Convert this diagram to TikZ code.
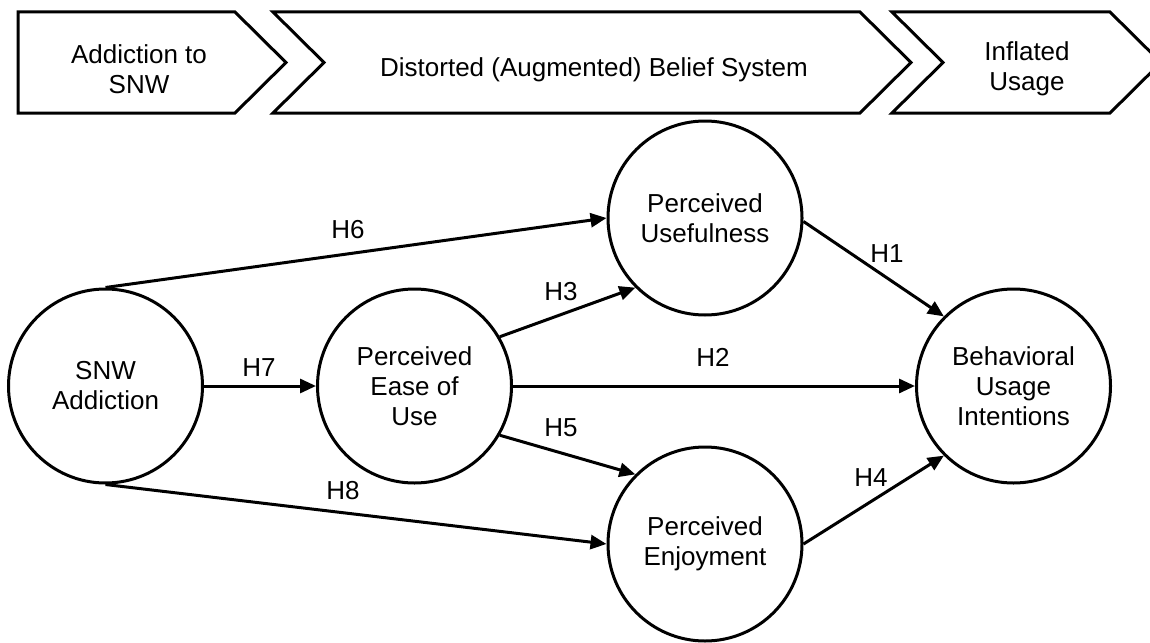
\documentclass[tikz,border=0pt]{standalone}
\usepackage{fontspec}
\setmainfont{Liberation Sans}
\usetikzlibrary{arrows.meta}
\tikzset{
  txt/.style={font=\fontsize{26}{30}\selectfont, align=center, inner sep=0pt},
  construct/.style={draw, circle, line width=3pt, minimum size=194pt, inner sep=0pt, txt},
  chev/.style={draw, line width=3pt, line join=miter},
  arr/.style={line width=3pt, -{Triangle[length=16pt,width=14pt]}},
  lab/.style={font=\fontsize{26}{30}\selectfont, inner sep=0pt}
}
\begin{document}
\begin{tikzpicture}[x=1pt,y=-1pt]
\useasboundingbox (0,0) rectangle (1150,642);
\clip (0,0) rectangle (1150,642);
% chevrons
\draw[chev] (18,12) -- (235,12) -- (286,62.5) -- (235,113) -- (18,113) -- cycle;
\draw[chev] (273,12) -- (860,12) -- (911,62.5) -- (860,113) -- (273,113) -- (324,62.5) -- cycle;
\draw[chev] (892,12) -- (1110,12) -- (1161,62.5) -- (1110,113) -- (892,113) -- (943,62.5) -- cycle;
\node[txt] (c1) at (139,69) {Addiction to\\SNW};
\node[txt] (c2) at (594,70) {Distorted (Augmented) Belief System};
\node[txt] (c3) at (1027,69) {Inflated\\Usage};
% constructs
\node[construct] (snw) at (105.5,386) {SNW\\Addiction};
\node[construct] (peou) at (414.5,386) {Perceived\\Ease of\\Use};
\node[construct] (pu) at (705,218) {Perceived\\Usefulness};
\node[construct] (pe) at (705,544) {Perceived\\Enjoyment};
\node[construct] (bui) at (1013.5,386) {Behavioral\\Usage\\Intentions};
% connectors
\draw[arr] (snw.north) -- (pu.west);
\draw[arr] (snw.east) -- (peou.west);
\draw[arr] (snw.south) -- (pe.west);
\draw[arr] (peou.30) -- (pu.225);
\draw[arr] (peou.east) -- (bui.west);
\draw[arr] (peou.-30) -- (pe.135);
\draw[arr] (pu.-2) -- (bui.135);
\draw[arr] (pe.east) -- (bui.225);
% labels
\node[lab] (lH6) at (348,230) {H6};
\node[lab] (lH7) at (259,368) {H7};
\node[lab] (lH8) at (343,491) {H8};
\node[lab] (lH3) at (561,292) {H3};
\node[lab] (lH2) at (713,357) {H2};
\node[lab] (lH5) at (561,428) {H5};
\node[lab] (lH1) at (887,254) {H1};
\node[lab] (lH4) at (871,478) {H4};
\end{tikzpicture}
\end{document}
